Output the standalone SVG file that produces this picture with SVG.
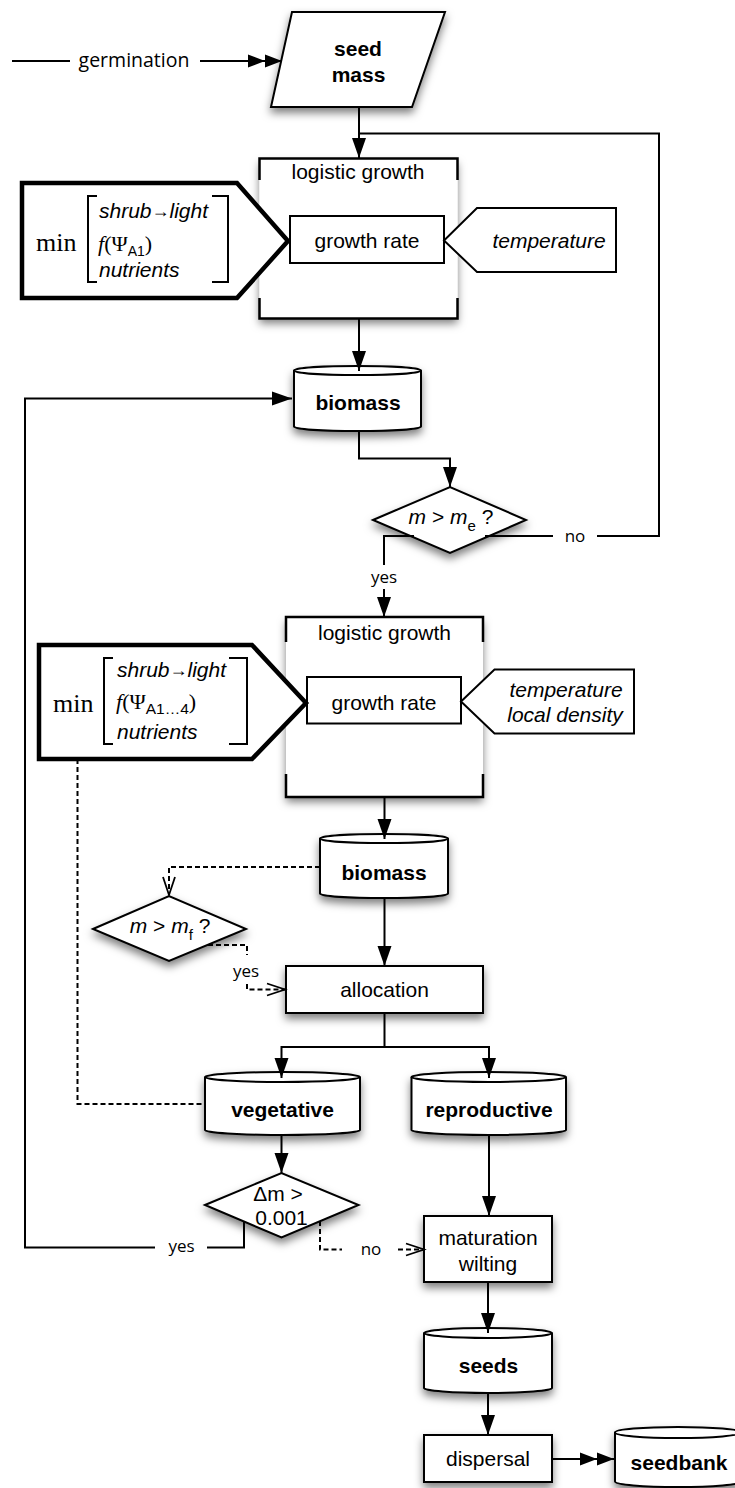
<svg xmlns="http://www.w3.org/2000/svg" width="735" height="1488" viewBox="0 0 735 1488">
<style>
.n{fill:#fff;stroke:#000;stroke-width:2;stroke-linejoin:miter}
.thick{fill:#fff;stroke:#000;stroke-width:4.5;stroke-linejoin:miter}
.ln{fill:none;stroke:#000;stroke-width:2}
.br{fill:none;stroke:#000;stroke-width:2}
.c{fill:none;stroke:#000;stroke-width:2}
.d{fill:none;stroke:#000;stroke-width:2;stroke-dasharray:5 3}
.t{font-family:"Liberation Sans",Arial,sans-serif;font-size:21px;text-anchor:middle;fill:#000}
.s{text-anchor:start}
.b{font-weight:bold}
.i{font-style:italic}
.lb{font-family:"Open Sans","Liberation Sans",sans-serif;font-size:17px;text-anchor:middle;fill:#000}
.sr{font-family:"Liberation Serif","Times New Roman",serif;fill:#000}
.sub{font-family:"Liberation Sans",Arial,sans-serif;font-size:14px}
.sh{filter:url(#ds)}
</style>
<defs>
<filter id="ds" x="-20%" y="-20%" width="140%" height="160%">
<feDropShadow dx="0" dy="5" stdDeviation="4" flood-color="#000" flood-opacity="0.5"/>
</filter>
<marker id="ah" markerUnits="userSpaceOnUse" markerWidth="22" markerHeight="16" refX="20" refY="7" orient="auto" overflow="visible">
<path d="M0,0 L20,7 L0,14 Z" fill="#000"/>
</marker>
<marker id="dah" markerUnits="userSpaceOnUse" markerWidth="36" markerHeight="14" refX="34" refY="6.5" orient="auto" overflow="visible">
<path d="M0,0 L17,6.5 L0,13 Z M17,0 L34,6.5 L17,13 Z" fill="#000"/>
</marker>
<marker id="ov" markerUnits="userSpaceOnUse" markerWidth="20" markerHeight="14" refX="18" refY="6" orient="auto" overflow="visible">
<path d="M0,0 L18,6 L0,12" fill="none" stroke="#000" stroke-width="1.8" stroke-dasharray="none"/>
</marker>
</defs>
<rect width="735" height="1488" fill="#fff"/>

<g id="seed-mass">
<polygon class="n sh" points="292,12 445,12 412,107 271,107"/>
<text class="t b" x="358" y="56">seed</text>
<text class="t b" x="358.5" y="81.5">mass</text>
</g>

<g id="logistic-growth-1">
<rect x="259.5" y="158.5" width="198" height="160" fill="#fff" class="sh"/>
<path class="ln" style="stroke-width:2.5" d="M259.5,180 V158.5 H457.5 V180 M259.5,298 V318.5 H457.5 V298"/>
<text class="t" x="358" y="179">logistic growth</text>
</g>
<g id="growth-rate-1">
<rect class="n" x="290" y="216" width="154" height="47"/>
<text class="t" x="367" y="248">growth rate</text>
</g>
<g id="min-1">
<polygon class="thick" points="22,183 237,183 288,241 237,298 22,298"/>
<text class="sr" x="36" y="251" font-size="26">min</text>
<path class="br" d="M97,196 H88 V282 H97 M212,196 H228 V282 H212"/>
<text class="t s i" x="99" y="218">shrub<tspan font-style="normal" font-size="18" dy="-1">→</tspan><tspan dy="1">light</tspan></text>
<text class="sr" x="98" y="251" font-size="22"><tspan font-style="italic">f</tspan>(Ψ<tspan class="sub" dy="5">A1</tspan><tspan dy="-5">)</tspan></text>
<text class="t s i" x="99" y="277">nutrients</text>
</g>
<g id="temperature-1">
<polygon class="n" points="616,208 477,208 444,240.5 477,272 616,272"/>
<text class="t i" x="549" y="248">temperature</text>
</g>

<g id="biomass-1">
<path class="n sh" d="M294,370.5 L294,426.5 A63.5,4.5 0 0 0 421,426.5 L421,370.5 A63.5,4.5 0 0 0 294,370.5 Z"/>
<path class="ln" d="M294,370.5 A63.5,4.5 0 0 0 421,370.5"/>
<text class="t b" x="358" y="410">biomass</text>
</g>

<g id="decision-me">
<polygon class="n sh" points="373,520 450,487 526,520 450,553"/>
<text class="t" x="451" y="524"><tspan font-style="italic">m</tspan> &gt; <tspan font-style="italic">m</tspan><tspan font-size="15" dy="7">e</tspan><tspan dy="-7"> ?</tspan></text>
</g>

<g id="logistic-growth-2">
<rect x="286" y="617" width="197" height="180" fill="#fff" class="sh"/>
<path class="ln" style="stroke-width:2.5" d="M286,642 V617 H483 V642 M286,774 V797 H483 V774"/>
<text class="t" x="384.5" y="640">logistic growth</text>
</g>
<g id="growth-rate-2">
<rect class="n" x="307" y="677" width="154" height="46.5"/>
<text class="t" x="384" y="710">growth rate</text>
</g>
<g id="min-2">
<polygon class="thick" points="39,645 252,645 306,703 252,759 39,759"/>
<text class="sr" x="53" y="711.5" font-size="26">min</text>
<path class="br" d="M113,658 H104 V744 H113 M229,658 H247 V744 H229"/>
<text class="t s i" x="117" y="677">shrub<tspan font-style="normal" font-size="18" dy="-1">→</tspan><tspan dy="1">light</tspan></text>
<text class="sr" x="116" y="709" font-size="22"><tspan font-style="italic">f</tspan>(Ψ<tspan class="sub" dy="5" style="font-size:15.5px">A1…4</tspan><tspan dy="-5">)</tspan></text>
<text class="t s i" x="117" y="739">nutrients</text>
</g>
<g id="temperature-density">
<polygon class="n" points="634,669.5 494.5,669.5 461,701.5 494.5,733.5 634,733.5"/>
<text class="t i" x="566" y="696.5">temperature</text>
<text class="t i" x="565" y="721.5">local density</text>
</g>

<g id="biomass-2">
<path class="n sh" d="M320,838.5 L320,893.5 A64,4.5 0 0 0 448,893.5 L448,838.5 A64,4.5 0 0 0 320,838.5 Z"/>
<path class="ln" d="M320,838.5 A64,4.5 0 0 0 448,838.5"/>
<text class="t b" x="384" y="880">biomass</text>
</g>

<g id="decision-mf">
<polygon class="n sh" points="93,929 169,896 246,929 169,961"/>
<text class="t" x="170" y="933"><tspan font-style="italic">m</tspan> &gt; <tspan font-style="italic">m</tspan><tspan font-size="15" dy="7">f</tspan><tspan dy="-7"> ?</tspan></text>
</g>

<g id="allocation">
<rect class="n sh" x="286" y="966" width="197" height="47"/>
<text class="t" x="384.5" y="997">allocation</text>
</g>

<g id="vegetative">
<path class="n sh" d="M205,1077 L205,1130 A77.5,5 0 0 0 360,1130 L360,1077 A77.5,5 0 0 0 205,1077 Z"/>
<path class="ln" d="M205,1077 A77.5,5 0 0 0 360,1077"/>
<text class="t b" x="282.5" y="1116.5">vegetative</text>
</g>
<g id="reproductive">
<path class="n sh" d="M411.5,1077 L411.5,1130 A77.25,5 0 0 0 566,1130 L566,1077 A77.25,5 0 0 0 411.5,1077 Z"/>
<path class="ln" d="M411.5,1077 A77.25,5 0 0 0 566,1077"/>
<text class="t b" x="489" y="1116.5">reproductive</text>
</g>

<g id="decision-dm">
<polygon class="n sh" points="205,1205 281.5,1173 358.5,1205 281.5,1237.5"/>
<text class="t" x="278" y="1200.5">Δm &gt;</text>
<text class="t" x="281.5" y="1225">0.001</text>
</g>

<g id="maturation">
<rect class="n sh" x="424" y="1216" width="128" height="66"/>
<text class="t" x="488" y="1245">maturation</text>
<text class="t" x="488" y="1271">wilting</text>
</g>

<g id="seeds">
<path class="n sh" d="M424,1333 L424,1388 A64,5 0 0 0 552,1388 L552,1333 A64,5 0 0 0 424,1333 Z"/>
<path class="ln" d="M424,1333 A64,5 0 0 0 552,1333"/>
<text class="t b" x="488.5" y="1373">seeds</text>
</g>

<g id="dispersal">
<rect class="n sh" x="424" y="1435" width="128" height="47"/>
<text class="t" x="488" y="1466">dispersal</text>
</g>

<g id="seedbank">
<path class="n sh" d="M615,1432.5 L615,1481.5 A63,5.5 0 0 0 741,1481.5 L741,1432.5 A63,5.5 0 0 0 615,1432.5 Z"/>
<path class="ln" d="M615,1432.5 A63,5.5 0 0 0 741,1432.5"/>
<text class="t b" x="679" y="1470">seedbank</text>
</g>

<g id="connectors">
<path class="c" d="M12,61 H70"/>
<path class="c" d="M200,61 H282" marker-end="url(#dah)"/>
<text class="lb" x="134" y="67" style="font-size:19.5px">germination</text>
<path class="c" d="M359,107 V158" marker-end="url(#ah)"/>
<path class="c" d="M485,536 H553"/>
<path class="c" d="M597,536 H659 V133.5 H359"/>
<text class="lb" x="575" y="541.5">no</text>
<path class="c" d="M359,318.5 V371" marker-end="url(#ah)"/>
<path class="c" d="M359,431 V458.5 H450 V487" marker-end="url(#ah)"/>
<path class="c" d="M414,536 H384 V565"/>
<path class="c" d="M384,589 V617" marker-end="url(#ah)"/>
<text class="lb" x="384" y="583">yes</text>
<path class="c" d="M384.5,797 V839" marker-end="url(#ah)"/>
<path class="d" d="M320,867 H169 V895" marker-end="url(#ov)"/>
<path class="c" d="M384.5,898 V966" marker-end="url(#ah)"/>
<path class="d" d="M208,945 H247 V955"/>
<path class="d" d="M247,984 V989.5 H285" marker-end="url(#ov)"/>
<text class="lb" x="246" y="977">yes</text>
<path class="c" d="M384.5,1013 V1047 M281.5,1047 H489"/>
<path class="c" d="M281.5,1046 V1078" marker-end="url(#ah)"/>
<path class="c" d="M489,1046 V1078" marker-end="url(#ah)"/>
<path class="d" d="M77.5,759 V1104 H205"/>
<path class="c" d="M281.5,1135 V1173" marker-end="url(#ah)"/>
<path class="c" d="M244,1221.5 V1247.5 H207"/>
<path class="c" d="M155,1247.5 H25 V398.5 H292" marker-end="url(#ah)"/>
<text class="lb" x="181.5" y="1252">yes</text>
<path class="d" d="M320,1221 V1249.5 H342"/>
<path class="d" d="M398,1249.5 H424" marker-end="url(#ov)"/>
<text class="lb" x="371" y="1255">no</text>
<path class="c" d="M489,1135 V1216" marker-end="url(#ah)"/>
<path class="c" d="M488,1282 V1333" marker-end="url(#ah)"/>
<path class="c" d="M488,1393 V1435" marker-end="url(#ah)"/>
<path class="c" d="M552,1459 H614" marker-end="url(#dah)"/>
</g>
</svg>
